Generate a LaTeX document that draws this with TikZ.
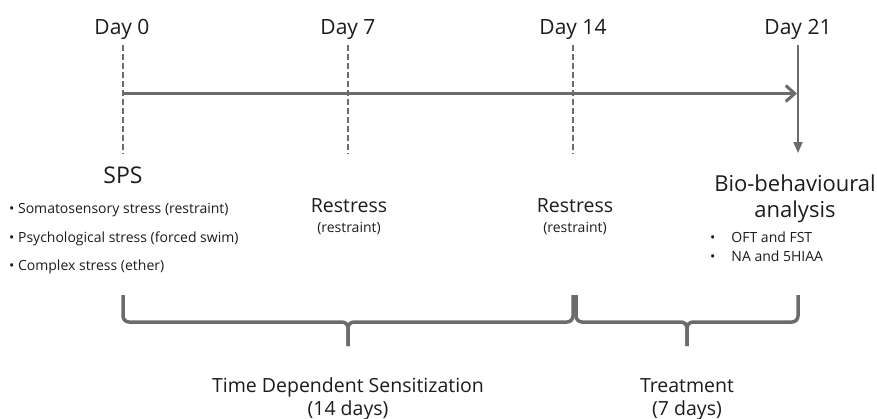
\documentclass[tikz,border=0pt]{standalone}
\usepackage{fontspec}
\setmainfont{Open Sans}
\usepackage{xcolor}
\definecolor{linecolor}{HTML}{6b6b6b}
\definecolor{textcolor}{HTML}{1c1c1c}
\usetikzlibrary{positioning,arrows.meta}
\tikzset{
    daylabel/.style={
        text=textcolor,
        font=\fontsize{21}{24}\selectfont,
        inner sep=0pt,
        anchor=base,
    },
    tick/.style={
        draw=linecolor,
        line width=1.8pt,
        dash pattern=on 6pt off 3pt,
    },
    timeline/.style={
        draw=linecolor,
        line width=3pt,
        -{Straight Barb[length=9pt,width=16pt,line width=3pt]},
    },
    endline/.style={
        draw=linecolor,
        line width=1.8pt,
        -{Triangle[length=11pt,width=9pt]},
    },
    title/.style={
        text=textcolor,
        font=\fontsize{19.5}{22}\selectfont,
        inner sep=0pt,
        anchor=base,
    },
    bigtitle/.style={
        title,
        font=\fontsize{22}{24}\selectfont,
    },
    note/.style={
        text=textcolor,
        font=\fontsize{14}{16}\selectfont,
        inner sep=0pt,
        anchor=base,
    },
    bracket/.style={
        draw=linecolor,
        line width=3.5pt,
        rounded corners=6pt,
    },
}

\begin{document}
\begin{tikzpicture}[x=1pt,y=-1pt]
    \useasboundingbox (0,0) rectangle (877,418);

    % day marks
    \node[daylabel] (day0) at (122,34) {Day 0};
    \node[daylabel] (day7) at (348,34) {Day 7};
    \node[daylabel] (day14) at (573,34) {Day 14};
    \node[daylabel] (day21) at (798,34) {Day 21};

    \coordinate (t0) at (123,45);
    \coordinate (t7) at (348,45);
    \coordinate (t14) at (573,45);
    \coordinate (t21) at (798,45);
    \coordinate (b0) at (123,154);
    \coordinate (b7) at (348,154);
    \coordinate (b14) at (573,154);
    \coordinate (b21) at (798,153);

    \draw[tick] (t0) -- (b0);
    \draw[tick] (t7) -- (b7);
    \draw[tick] (t14) -- (b14);
    \draw[endline] (t21) -- (b21);

    \coordinate (start) at (123,93.5);
    \coordinate (stop) at (797,93.5);
    \draw[timeline] (start) -- (stop);

    % events
    \node[bigtitle, font=\fontsize{23}{26}\selectfont] (sps) at (123,183) {SPS};
    \node[note, anchor=base west] (sps1) at (9,213) {\textbullet\ Somatosensory stress (restraint)};
    \node[note, anchor=base west] (sps2) at (9,242) {\textbullet\ Psychological stress (forced swim)};
    \node[note, anchor=base west] (sps3) at (9,270) {\textbullet\ Complex stress (ether)};

    \node[title] (rest1) at (349,212) {Restress};
    \node[note] (rest1sub) at (349,232) {(restraint)};
    \node[title] (rest2) at (575,212) {Restress};
    \node[note] (rest2sub) at (575,232) {(restraint)};

    \node[bigtitle] (bio) at (795,191) {Bio-behavioural};
    \node[bigtitle] (bio2) at (795,217) {analysis};
    \node[note, anchor=base west] (bio3) at (710,242) {\textbullet\hspace{16pt}OFT and FST};
    \node[note, anchor=base west] (bio4) at (710,261) {\textbullet\hspace{16pt}NA and 5HIAA};

    % periods
    \coordinate (p0) at (123,295);
    \coordinate (c0) at (123,322);
    \coordinate (tipA) at (348,322);
    \coordinate (endA) at (348,346);
    \coordinate (p14) at (573,295);
    \coordinate (c14) at (573,322);
    \coordinate (q14) at (576,295);
    \coordinate (d14) at (576,322);
    \coordinate (tipB) at (687,322);
    \coordinate (endB) at (687,346);
    \coordinate (p21) at (798,295);
    \coordinate (c21) at (798,322);
    \draw[bracket] (p0) -- (c0) -- (tipA) -- (endA);
    \draw[bracket] (p14) -- (c14) -- (tipA) -- (endA);
    \draw[bracket] (q14) -- (d14) -- (tipB) -- (endB);
    \draw[bracket] (p21) -- (c21) -- (tipB) -- (endB);

    \node[title] (tds) at (348,392) {Time Dependent Sensitization};
    \node[title] (tds2) at (348,415) {(14 days)};
    \node[title] (treat) at (687,392) {Treatment};
    \node[title] (treat2) at (687,415) {(7 days)};
\end{tikzpicture}
\end{document}
